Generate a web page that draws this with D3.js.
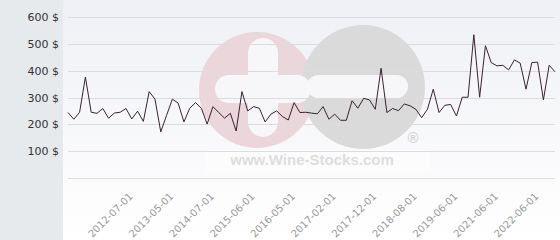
<!DOCTYPE html>
<html>
<head>
<meta charset="utf-8">
<script src="https://cdn.jsdelivr.net/npm/d3@7"></script>
<style>
  html, body { margin: 0; padding: 0; background: #ffffff; }
  svg { display: block; }
</style>
</head>
<body>
<svg id="chart" width="560" height="240"></svg>
<script>
// ---- data ----
const prices = [
  244, 219, 245, 376, 245, 241, 259, 223, 242, 245,
  259, 220, 249, 211, 322, 294, 172, 233, 294, 279,
  209, 260, 281, 260, 201, 266, 244, 223, 241, 175,
  322, 250, 266, 260, 209, 238, 250, 229, 216, 281,
  244, 245, 242, 239, 266, 219, 238, 215, 215, 288,
  260, 297, 291, 256, 409, 244, 259, 251, 276, 269,
  256, 225, 256, 331, 244, 271, 274, 231, 301, 301,
  534, 301, 493, 430, 418, 420, 403, 440, 428, 331,
  430, 432, 291, 420, 396
];
const tickLabels = [
  "2012-07-01", "2013-05-01", "2014-07-01", "2015-06-01", "2016-05-01",
  "2017-02-01", "2017-12-01", "2018-08-01", "2019-06-01", "2021-06-01", "2022-06-01"
];
const yTicks = [100, 200, 300, 400, 500, 600];
const yDomain = [0, 600];

// ---- layout ----
const W = 560, H = 240;
const plotLeft = 68, plotRight = 555, plotTop = 17, plotBottom = 178;
const panelW = 63;

const svg = d3.select("#chart");
const defs = svg.append("defs");
const grad = defs.append("linearGradient").attr("id", "bg").attr("x1", 0).attr("y1", 0).attr("x2", 0).attr("y2", 1);
grad.append("stop").attr("offset", "0%").attr("stop-color", "#eff0f5");
grad.append("stop").attr("offset", "100%").attr("stop-color", "#ffffff");

svg.append("rect").attr("x", 0).attr("y", 0).attr("width", W).attr("height", H).attr("fill", "url(#bg)");
svg.append("rect").attr("x", 0).attr("y", 0).attr("width", panelW).attr("height", H).attr("fill", "#e7eaed");

// ---- watermark ----
const wm = svg.append("g").attr("class", "watermark");
wm.append("circle").attr("cx", 257).attr("cy", 90).attr("r", 58).attr("fill", "#ead6db");
wm.append("circle").attr("cx", 363).attr("cy", 87).attr("r", 62).attr("fill", "#dadada");
wm.append("rect").attr("x", 248).attr("y", 38).attr("width", 30).attr("height", 99).attr("rx", 15).attr("fill", "#f7f7f9");
wm.append("rect").attr("x", 215).attr("y", 75).attr("width", 96).attr("height", 28).attr("rx", 14).attr("fill", "#f7f7f9");
wm.append("rect").attr("x", 307).attr("y", 75).attr("width", 101).attr("height", 23).attr("rx", 11.5).attr("fill", "#f7f7f9");
wm.append("rect").attr("x", 205).attr("y", 150).attr("width", 225).attr("height", 22).attr("fill", "#fcfcfd");
wm.append("text").attr("x", 312).attr("y", 165).attr("text-anchor", "middle")
  .attr("font-family", "Liberation Sans, Arial, sans-serif").attr("font-weight", "bold")
  .attr("font-size", 15).attr("fill", "#dedede").text("www.Wine-Stocks.com");
wm.append("text").attr("x", 413).attr("y", 143).attr("text-anchor", "middle")
  .attr("font-family", "Liberation Sans, Arial, sans-serif").attr("font-weight", "bold")
  .attr("font-size", 15).attr("fill", "#d4d4d4").text("®");

// ---- scales ----
const x = d3.scalePoint().domain(d3.range(prices.length)).range([plotLeft, plotRight]);
const y = d3.scaleLinear().domain(yDomain).range([plotBottom, plotTop]);

// ---- grid + y axis ----
const grid = svg.append("g");
grid.selectAll("line").data([0].concat(yTicks)).join("line")
  .attr("x1", plotLeft).attr("x2", plotRight)
  .attr("y1", d => Math.round(y(d)) + 0.5).attr("y2", d => Math.round(y(d)) + 0.5)
  .attr("stroke", "#dcdcdf").attr("stroke-width", 1);

const yAxis = d3.axisLeft(y).tickValues(yTicks).tickSize(0).tickPadding(0).tickFormat(d => d + " $");
svg.append("g").attr("transform", "translate(59,0)").call(yAxis)
  .call(g => g.select(".domain").remove())
  .call(g => g.selectAll("text").attr("font-family", "DejaVu Sans, sans-serif").attr("font-size", 11).attr("fill", "#333"));

// ---- x axis labels ----
const tickIdx = tickLabels.map((_, i) => 10 + 7 * i);
const xAxis = d3.axisBottom(x).tickValues(tickIdx).tickSize(0).tickFormat((d, i) => tickLabels[i]);
svg.append("g").attr("transform", "translate(0," + plotBottom + ")").call(xAxis)
  .call(g => g.select(".domain").remove())
  .call(g => g.selectAll("text")
    .attr("font-family", "DejaVu Sans, sans-serif").attr("font-size", 10).attr("fill", "#999")
    .attr("text-anchor", "end").attr("y", 0).attr("dy", 0)
    .attr("transform", "translate(7,19) rotate(-45)"));

// ---- line ----
const line = d3.line().x((d, i) => x(i)).y(d => y(d));
svg.append("path").datum(prices).attr("d", line)
  .attr("fill", "none").attr("stroke", "#3a2230").attr("stroke-width", 1);
</script>
</body>
</html>
